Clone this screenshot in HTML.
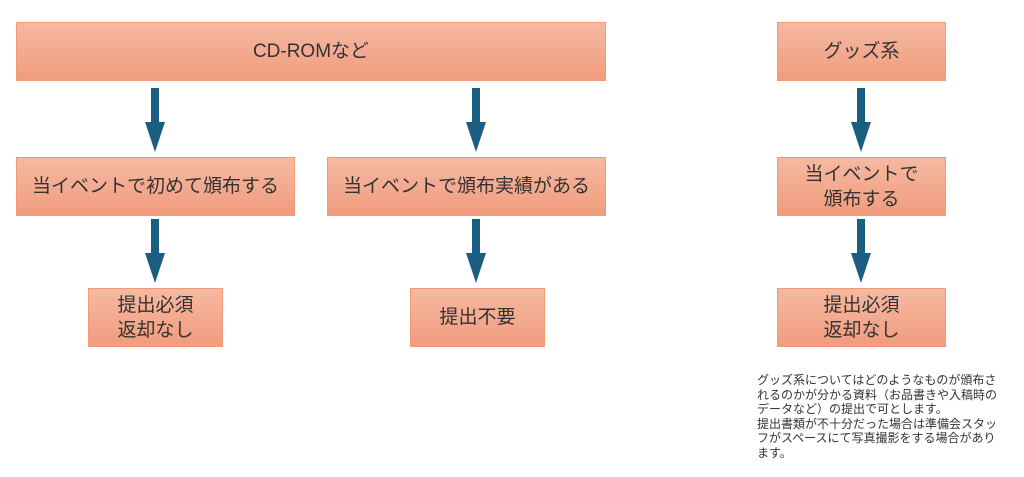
<!DOCTYPE html>
<html><head><meta charset="utf-8"><style>
body{margin:0;width:1024px;height:477px;background:#fff;position:relative;overflow:hidden;font-family:"Liberation Sans","Noto Sans CJK JP",sans-serif;}
.b{position:absolute;box-sizing:border-box;border:1px solid #f19a78;background:linear-gradient(#f5b9a2,#f19c7d);display:flex;align-items:center;justify-content:center;text-align:center;color:#333;font-size:19px;line-height:25px;}
.a{position:absolute;width:20px;}
.a .s{position:absolute;left:6px;top:0;width:8px;background:#1a5f82;}
.a .h{position:absolute;left:0;width:0;height:0;border-left:10px solid transparent;border-right:10px solid transparent;border-top:30px solid #1a5f82;}
.n{position:absolute;left:757px;top:373px;font-size:12px;line-height:14.6px;color:#333;white-space:pre;}
</style></head><body>
<div class="b" style="left:16px;top:22px;width:590px;height:59px">CD-ROMなど</div>
<div class="b" style="left:777px;top:22px;width:169px;height:59px">グッズ系</div>
<div class="b" style="left:16px;top:157px;width:279px;height:59px">当イベントで初めて頒布する</div>
<div class="b" style="left:327px;top:157px;width:279px;height:59px">当イベントで頒布実績がある</div>
<div class="b" style="left:777px;top:157px;width:169px;height:59px">当イベントで<br>頒布する</div>
<div class="b" style="left:88px;top:288px;width:135px;height:59px">提出必須<br>返却なし</div>
<div class="b" style="left:410px;top:288px;width:135px;height:59px">提出不要</div>
<div class="b" style="left:777px;top:288px;width:169px;height:59px">提出必須<br>返却なし</div>

<div class="a" style="left:145px;top:88px"><div class="s" style="height:36px"></div><div class="h" style="top:34px"></div></div>
<div class="a" style="left:466px;top:88px"><div class="s" style="height:36px"></div><div class="h" style="top:34px"></div></div>
<div class="a" style="left:851px;top:88px"><div class="s" style="height:36px"></div><div class="h" style="top:34px"></div></div>
<div class="a" style="left:145px;top:219px"><div class="s" style="height:36px"></div><div class="h" style="top:34px"></div></div>
<div class="a" style="left:466px;top:219px"><div class="s" style="height:36px"></div><div class="h" style="top:34px"></div></div>
<div class="a" style="left:851px;top:219px"><div class="s" style="height:36px"></div><div class="h" style="top:34px"></div></div>

<div class="n">グッズ系についてはどのようなものが頒布さ
れるのかが分かる資料（お品書きや入稿時の
データなど）の提出で可とします。
提出書類が不十分だった場合は準備会スタッ
フがスペースにて写真撮影をする場合があり
ます。</div>
</body></html>
